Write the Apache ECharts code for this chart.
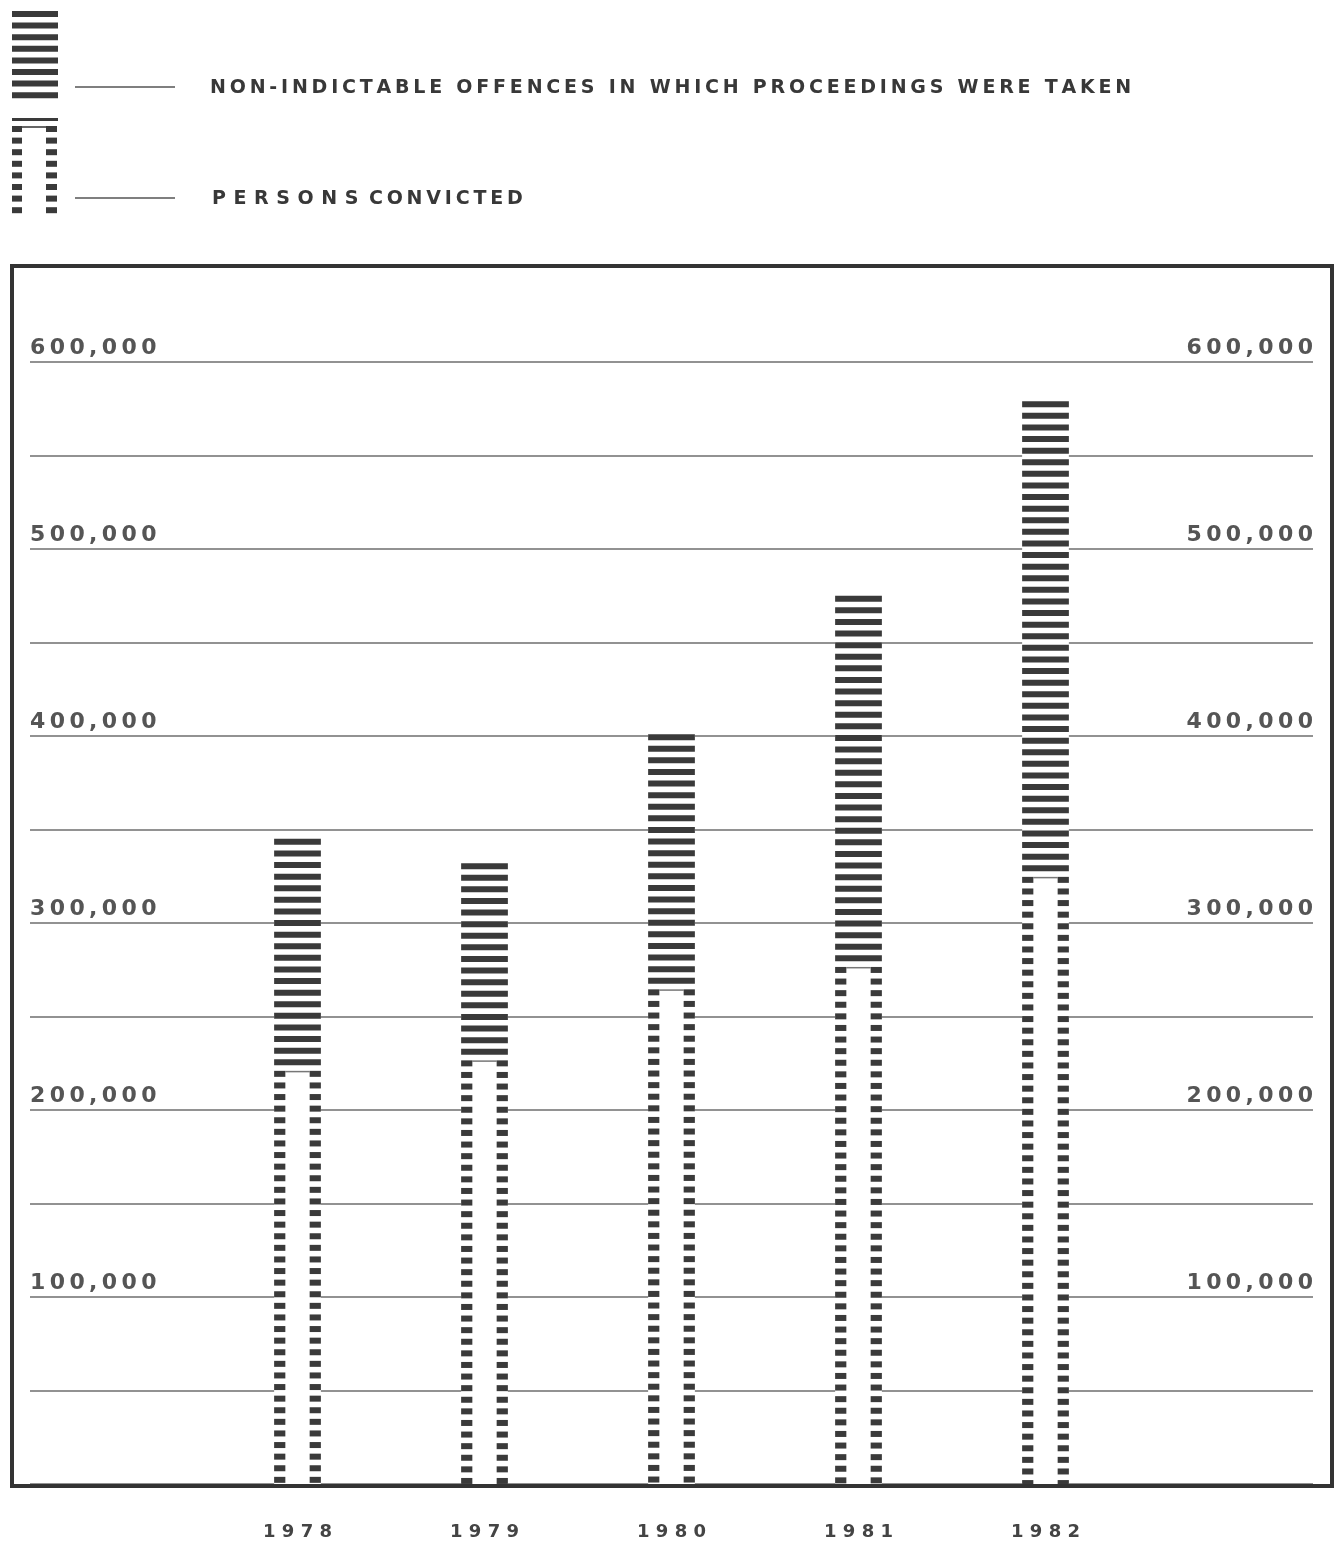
<!DOCTYPE html>
<html>
<head>
<meta charset="utf-8">
<script src="https://cdn.jsdelivr.net/npm/echarts@6/dist/echarts.min.js"></script>
<style>
html,body{margin:0;padding:0;background:#fff;}
#chart{width:1335px;height:1545px;}
</style>
</head>
<body>
<div id="chart"></div>
<script>
// ---- data ----
const years = ['1978', '1979', '1980', '1981', '1982'];
const nonIndictable = [345000, 332000, 401000, 475000, 579000];
const personsConvicted = [221000, 228000, 265000, 279000, 323000];
const yTickValues = [100000, 200000, 300000, 400000, 500000, 600000];
const legendNames = ['NON-INDICTABLE OFFENCES IN WHICH PROCEEDINGS WERE TAKEN', 'PERSONS CONVICTED'];

const TS = '\u2009';
function spaced(s) { return s.split('').join(TS); }
function fmtNum(v) { return spaced(v.toLocaleString('en-US')); }

const FONT = 'DejaVu Sans';
const STRIPE = '#3a3a3a';
const PERIOD = 11.6, DARK = 6;

function renderBar(params, api) {
  const idx = api.value(0);
  const total = api.value(1);
  const conv = api.value(2);
  const pTop = api.coord([idx, total]);
  const pConv = api.coord([idx, conv]);
  const p0 = api.coord([idx, 0]);
  const w = api.size([1, 0])[0] * 0.25;
  const left = pTop[0] - w / 2;
  const edge = w * 0.24;
  const children = [{
    type: 'rect',
    shape: { x: left, y: pTop[1], width: w, height: p0[1] - pTop[1] },
    style: { fill: '#fff' }
  }];
  let capDone = false;
  for (let y = pTop[1]; y < p0[1] - 1; y += PERIOD) {
    const h = Math.min(DARK, p0[1] - y);
    if (y + DARK <= pConv[1] + 2) {
      children.push({ type: 'rect', shape: { x: left, y: y, width: w, height: h }, style: { fill: STRIPE } });
    } else {
      if (!capDone) {
        children.push({ type: 'rect', shape: { x: left + edge, y: y, width: w - 2 * edge, height: 1.5 }, style: { fill: '#777' } });
        capDone = true;
      }
      children.push({ type: 'rect', shape: { x: left, y: y, width: edge, height: h }, style: { fill: STRIPE } });
      children.push({ type: 'rect', shape: { x: left + w - edge, y: y, width: edge, height: h }, style: { fill: STRIPE } });
    }
  }
  return { type: 'group', children: children };
}

// legend icon graphics
const legendGraphics = [];
for (let i = 0; i < 8; i++) {
  legendGraphics.push({ type: 'rect', shape: { x: 12, y: 11 + i * 11.6, width: 46, height: 6 }, style: { fill: STRIPE } });
}
legendGraphics.push({ type: 'rect', shape: { x: 12, y: 118, width: 46, height: 3 }, style: { fill: STRIPE } });
for (let i = 0; i < 8; i++) {
  legendGraphics.push({ type: 'rect', shape: { x: 12, y: 126 + i * 11.6, width: 10, height: 6 }, style: { fill: STRIPE } });
  legendGraphics.push({ type: 'rect', shape: { x: 46, y: 126 + i * 11.6, width: 11, height: 6 }, style: { fill: STRIPE } });
}
legendGraphics.push({ type: 'rect', shape: { x: 22, y: 126, width: 24, height: 2 }, style: { fill: '#666' } });
legendGraphics.push({ type: 'line', shape: { x1: 75, y1: 87, x2: 175, y2: 87 }, style: { stroke: '#555', lineWidth: 1.5 } });
legendGraphics.push({ type: 'line', shape: { x1: 75, y1: 198, x2: 175, y2: 198 }, style: { stroke: '#555', lineWidth: 1.5 } });
legendGraphics.push({
  type: 'text', left: 210, top: 79,
  style: { text: spaced(legendNames[0]), font: 'bold 19px "' + FONT + '"', fill: '#383838' }
});
legendGraphics.push({
  type: 'text', left: 212, top: 190,
  style: { text: 'P' + TS + TS + 'E' + TS + TS + 'R' + TS + TS + 'S' + TS + TS + 'O' + TS + TS + 'N' + TS + TS + 'S' + ' ' + TS + spaced('CONVICTED'), font: 'bold 19px "' + FONT + '"', fill: '#383838' }
});
// frame
legendGraphics.push({
  type: 'rect', shape: { x: 12, y: 266, width: 1320, height: 1220 },
  style: { fill: 'none', stroke: '#333', lineWidth: 4 }, z: 100
});

const chart = echarts.init(document.getElementById('chart'), null, { renderer: 'canvas' });
chart.setOption({
  backgroundColor: '#fff',
  animation: false,
  grid: [
    { left: 30, right: 22, top: 362, bottom: 61 },
    { left: 204, right: 196, top: 362, bottom: 61 }
  ],
  xAxis: [
    { gridIndex: 0, type: 'value', min: 0, max: 1, show: false },
    {
      gridIndex: 1, type: 'category', data: years,
      axisLine: { show: false }, axisTick: { show: false },
      axisLabel: {
        margin: 39, fontFamily: FONT, fontWeight: 'bold', fontSize: 18, color: '#444',
        formatter: v => v.split('').join(' ')
      }
    }
  ],
  yAxis: [
    {
      gridIndex: 0, type: 'value', position: 'left', min: 0, max: 600000, interval: 50000,
      axisLine: { show: false }, axisTick: { show: false },
      splitLine: { show: true, lineStyle: { color: '#6e6e6e', width: 1.5 } },
      axisLabel: {
        inside: true, margin: 0, align: 'left', verticalAlign: 'bottom', padding: [0, 0, 3, 0],
        fontFamily: FONT, fontWeight: 'bold', fontSize: 22, color: '#555',
        formatter: v => (yTickValues.indexOf(v) >= 0 ? fmtNum(v) : '')
      }
    },
    {
      gridIndex: 0, type: 'value', position: 'right', min: 0, max: 600000, interval: 50000,
      axisLine: { show: false }, axisTick: { show: false }, splitLine: { show: false },
      axisLabel: {
        inside: true, margin: 0, align: 'right', verticalAlign: 'bottom', padding: [0, 0, 3, 0],
        fontFamily: FONT, fontWeight: 'bold', fontSize: 22, color: '#555',
        formatter: v => (yTickValues.indexOf(v) >= 0 ? fmtNum(v) : '')
      }
    },
    { gridIndex: 1, type: 'value', min: 0, max: 600000, show: false }
  ],
  series: [{
    type: 'custom',
    name: legendNames[0],
    xAxisIndex: 1, yAxisIndex: 2,
    renderItem: renderBar,
    encode: { x: 0, y: 1 },
    data: years.map((y, i) => [i, nonIndictable[i], personsConvicted[i]]),
    z: 10
  }],
  graphic: legendGraphics
});
</script>
</body>
</html>
